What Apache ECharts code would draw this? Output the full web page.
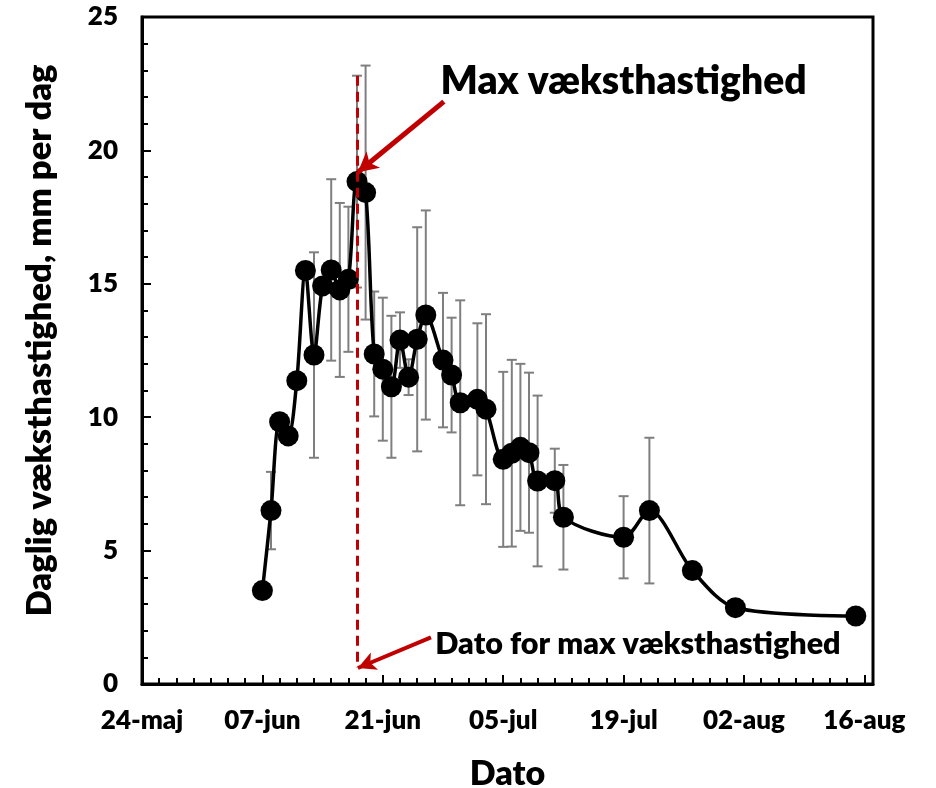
<!DOCTYPE html>
<html>
<head>
<meta charset="utf-8">
<script src="https://cdn.jsdelivr.net/npm/echarts@6/dist/echarts.min.js"></script>
<style>
  html, body { margin: 0; padding: 0; background: #fff; }
  #chart { width: 936px; height: 788px; }
</style>
</head>
<body>
<div id="chart"></div>
<script>
// Measurement dates, daily growth (mm per day) and its standard deviation
const axisStart = '2019-05-24';
const axisSpanDays = 85;
const dates = [
  '2019-06-07','2019-06-08','2019-06-09','2019-06-10','2019-06-11','2019-06-12','2019-06-13',
  '2019-06-14','2019-06-15','2019-06-16','2019-06-17','2019-06-18','2019-06-19','2019-06-20',
  '2019-06-21','2019-06-22','2019-06-23','2019-06-24','2019-06-25','2019-06-26','2019-06-28',
  '2019-06-29','2019-06-30','2019-07-02','2019-07-03','2019-07-05','2019-07-06','2019-07-07',
  '2019-07-08','2019-07-09','2019-07-11','2019-07-12','2019-07-19','2019-07-22','2019-07-27',
  '2019-08-01','2019-08-15'
];
const growth = [
  3.5, 6.5, 9.83, 9.3, 11.37, 15.5, 12.33,
  14.92, 15.52, 14.77, 15.17, 18.83, 18.42, 12.37,
  11.8, 11.14, 12.89, 11.5, 12.92, 13.83, 12.14,
  11.58, 10.54, 10.67, 10.3, 8.42, 8.65, 8.87,
  8.67, 7.61, 7.62, 6.25, 5.5, 6.5, 4.25,
  2.86, 2.55
];
const growthSd = [
  null, 1.45, null, null, null, null, 3.85,
  null, 3.4, 3.26, 2.72, 3.97, 4.76, 2.34,
  2.68, 2.66, 1.04, 0.67, 4.2, 3.92, 2.52,
  2.15, 3.84, 2.85, 3.56, 3.28, 3.5, 3.13,
  3.0, 3.2, 1.2, 1.96, 1.54, 2.73, null,
  null, null
];
const peakDate = '2019-06-18';
const peakLineRange = [0.6, 22.8];
const monthNames = ['jan','feb','mar','apr','maj','jun','jul','aug','sep','okt','nov','dec'];
const xTitle = 'Dato';
const yTitle = 'Daglig væksthastighed, mm per dag';
const noteMax = 'Max væksthastighed';
const noteDate = 'Dato for max væksthastighed';

const DAY = 86400000;
const t0 = Date.parse(axisStart + 'T00:00:00Z');
const dayOf = s => Math.round((Date.parse(s + 'T00:00:00Z') - t0) / DAY);
const fmtDay = d => {
  const dt = new Date(t0 + d * DAY);
  return String(dt.getUTCDate()).padStart(2, '0') + '-' + monthNames[dt.getUTCMonth()];
};

const FONT = 'Lato';
const WEIGHT = 800;
const RED = '#c00000';

const linePts = dates.map((s, i) => [dayOf(s), growth[i]]);
const errPts = [];
dates.forEach((s, i) => {
  if (growthSd[i] != null) errPts.push([dayOf(s), growth[i] - growthSd[i], growth[i] + growthSd[i]]);
});
const peakDay = dayOf(peakDate);
const peakVal = growth[dates.indexOf(peakDate)];

const chart = echarts.init(document.getElementById('chart'), null, { renderer: 'canvas' });

const option = {
  animation: false,
  backgroundColor: '#fff',
  grid: {
    left: 142, top: 17, right: 63, bottom: 104,
    outerBoundsMode: 'none', containLabel: false,
    show: true, borderColor: '#000', borderWidth: 3, backgroundColor: 'transparent'
  },
  xAxis: {
    type: 'value', min: 0, max: axisSpanDays, interval: 14,
    name: xTitle, nameLocation: 'middle', nameGap: 73,
    nameTextStyle: { fontFamily: FONT, fontWeight: WEIGHT, fontSize: 34, color: '#000' },
    axisLine: { lineStyle: { color: '#000', width: 3 } },
    axisTick: { inside: true, length: 9, lineStyle: { color: '#000', width: 2 } },
    minorTick: { show: true, splitNumber: 7, length: 6, lineStyle: { color: '#000', width: 2 } },
    splitLine: { show: false },
    axisLabel: {
      formatter: v => fmtDay(v), margin: 24,
      fontFamily: FONT, fontWeight: WEIGHT, fontSize: 26, color: '#000',
      showMaxLabel: false
    }
  },
  yAxis: {
    type: 'value', min: 0, max: 25, interval: 5,
    name: yTitle, nameLocation: 'middle', nameGap: 85,
    nameTextStyle: { fontFamily: FONT, fontWeight: WEIGHT, fontSize: 34.5, color: '#000',
                     padding: [0, 0, 0, 20] },
    axisLine: { lineStyle: { color: '#000', width: 3 } },
    axisTick: { inside: true, length: 9, lineStyle: { color: '#000', width: 2 } },
    minorTick: { show: true, splitNumber: 5, length: 6, lineStyle: { color: '#000', width: 2 } },
    splitLine: { show: false },
    axisLabel: { margin: 24, fontFamily: FONT, fontWeight: WEIGHT, fontSize: 26, color: '#000' }
  },
  series: [
    {
      type: 'custom',
      name: 'sd',
      z: 1,
      data: errPts,
      encode: { x: 0, y: [1, 2] },
      renderItem: (params, api) => {
        const x = api.value(0);
        const lo = api.coord([x, api.value(1)]);
        const hi = api.coord([x, api.value(2)]);
        const w = 5;
        const st = { stroke: '#7f7f7f', lineWidth: 2 };
        return {
          type: 'group',
          children: [
            { type: 'line', shape: { x1: hi[0], y1: hi[1], x2: lo[0], y2: lo[1] }, style: st },
            { type: 'line', shape: { x1: hi[0] - w, y1: hi[1], x2: hi[0] + w, y2: hi[1] }, style: st },
            { type: 'line', shape: { x1: lo[0] - w, y1: lo[1], x2: lo[0] + w, y2: lo[1] }, style: st }
          ]
        };
      }
    },
    {
      type: 'line',
      name: 'growth',
      z: 3,
      data: linePts,
      smooth: 0.3,
      symbol: 'circle',
      symbolSize: 21,
      itemStyle: { color: '#000' },
      lineStyle: { color: '#000', width: 3.5 }
    },
    {
      type: 'line',
      name: 'annotations',
      z: 4,
      data: [],
      markLine: {
        silent: true,
        animation: false,
        label: { show: false },
        data: [
          [
            { coord: [peakDay, peakLineRange[1]], symbol: 'none' },
            { coord: [peakDay, peakLineRange[0]], symbol: 'none',
              lineStyle: { color: RED, width: 3, type: [10, 6] } }
          ],
          [
            { coord: [peakDay + 10.1, peakVal + 3.0], symbol: 'none' },
            { coord: [peakDay + 0.1, peakVal + 0.35], symbol: 'arrow', symbolSize: [16, 20],
              lineStyle: { color: RED, width: 5, type: 'solid' } }
          ],
          [
            { coord: [peakDay + 8.6, 1.75], symbol: 'none' },
            { coord: [peakDay + 0.1, peakLineRange[0]], symbol: 'arrow', symbolSize: [14, 18],
              lineStyle: { color: RED, width: 4, type: 'solid' } }
          ]
        ]
      }
    }
  ]
};
chart.setOption(option);

// Annotation texts anchored to the arrow tails
const pMax = chart.convertToPixel({ gridIndex: 0 }, [peakDay + 9.7, 22.6]);
const pDate = chart.convertToPixel({ gridIndex: 0 }, [peakDay + 9.1, 1.5]);
chart.setOption({
  graphic: [
    { type: 'text', x: pMax[0], y: pMax[1], z: 10,
      style: { text: noteMax, fontFamily: FONT, fontWeight: WEIGHT, fontSize: 39, fill: '#000',
               textAlign: 'left', textVerticalAlign: 'middle' } },
    { type: 'text', x: pDate[0], y: pDate[1], z: 10,
      style: { text: noteDate, fontFamily: FONT, fontWeight: WEIGHT, fontSize: 30.5, fill: '#000',
               textAlign: 'left', textVerticalAlign: 'middle' } }
  ]
});
</script>
</body>
</html>
